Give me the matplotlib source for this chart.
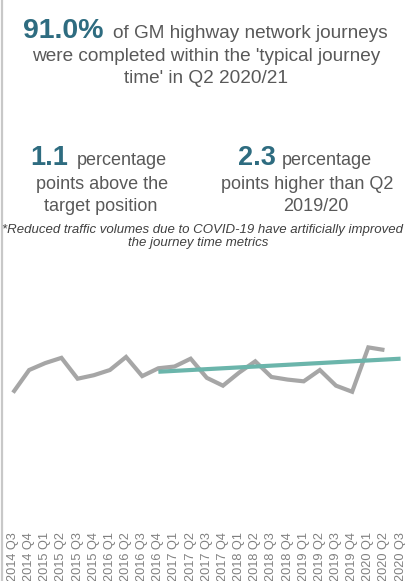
import matplotlib
matplotlib.use('Agg')
import matplotlib.pyplot as plt
from matplotlib.lines import Line2D

plt.rcParams['font.family'] = ['Liberation Sans', 'DejaVu Sans']

W, H = 406, 581
TEAL_TXT = '#2e6c80'
GREY_TXT = '#595959'
LINE_GREY = '#a6a6a6'
TREND = '#6bb5ab'

# ── Data ──────────────────────────────────────────────────────────────────────
quarters = ['2014 Q3', '2014 Q4',
            '2015 Q1', '2015 Q2', '2015 Q3', '2015 Q4',
            '2016 Q1', '2016 Q2', '2016 Q3', '2016 Q4',
            '2017 Q1', '2017 Q2', '2017 Q3', '2017 Q4',
            '2018 Q1', '2018 Q2', '2018 Q3', '2018 Q4',
            '2019 Q1', '2019 Q2', '2019 Q3', '2019 Q4',
            '2020 Q1', '2020 Q2', '2020 Q3']
pct_typical = [86.1, 88.7, 89.5, 90.1, 87.7, 88.1, 88.7, 90.2, 88.0, 88.9,
               89.1, 90.0, 87.8, 86.9, 88.4, 89.7, 87.9, 87.6, 87.4, 88.7,
               86.9, 86.2, 91.3, 91.0]
trend_idx = [9, 24]
trend_val = [88.5, 90.0]


def px(x, y):
    return x / W, 1 - y / H


fig = plt.figure(figsize=(W / 100, H / 100), dpi=100)

# left border rule
fig.add_artist(Line2D([2.5 / W, 2.5 / W], [0, 1], color='#c8c8c8', lw=1.6))

# ── Headline ─────────────────────────────────────────────────────────────────
fig.text(*px(23, 38), '91.0%', fontsize=20.5, fontweight='bold', color=TEAL_TXT,
         ha='left', va='baseline')
fig.text(*px(113, 38), 'of GM highway network journeys', fontsize=13.7,
         color=GREY_TXT, ha='left', va='baseline')
fig.text(*px(206, 61), "were completed within the 'typical journey",
         fontsize=13.7, color=GREY_TXT, ha='center', va='baseline')
fig.text(*px(206, 83), "time' in Q2 2020/21", fontsize=13.7,
         color=GREY_TXT, ha='center', va='baseline')

# ── Two call-outs ────────────────────────────────────────────────────────────
fig.text(*px(30, 165), '1.1', fontsize=19.5, fontweight='bold', color=TEAL_TXT,
         ha='left', va='baseline')
fig.text(*px(77, 165), 'percentage', fontsize=13, color=GREY_TXT,
         ha='left', va='baseline')
fig.text(*px(102, 189), 'points above the', fontsize=13, color=GREY_TXT,
         ha='center', va='baseline')
fig.text(*px(101, 211), 'target position', fontsize=13, color=GREY_TXT,
         ha='center', va='baseline')

fig.text(*px(238, 165), '2.3', fontsize=19.5, fontweight='bold', color=TEAL_TXT,
         ha='left', va='baseline')
fig.text(*px(282, 165), 'percentage', fontsize=13, color=GREY_TXT,
         ha='left', va='baseline')
fig.text(*px(307, 189), 'points higher than Q2', fontsize=13, color=GREY_TXT,
         ha='center', va='baseline')
fig.text(*px(316, 211), '2019/20', fontsize=13, color=GREY_TXT,
         ha='center', va='baseline')

fig.text(*px(2, 233), '*Reduced traffic volumes due to COVID-19 have artificially improved',
         fontsize=9.5, style='italic', color='#404040', ha='left', va='baseline')
fig.text(*px(198, 246), 'the journey time metrics', fontsize=9.5, style='italic',
         color='#404040', ha='center', va='baseline')

# ── Line chart ───────────────────────────────────────────────────────────────
top, bottom = 270, 525
ax = fig.add_axes([0, 1 - bottom / H, 1, (bottom - top) / H])
ax.set_facecolor('none')
x = list(range(len(pct_typical)))
ax.plot(x, pct_typical, color=LINE_GREY, lw=3.0, solid_joinstyle='miter',
        solid_capstyle='butt', zorder=2)
ax.plot(trend_idx, trend_val, color=TREND, lw=3.0, solid_capstyle='butt', zorder=3)

x0, dx = 13, 16.15
ax.set_xlim(-x0 / dx, (W - x0) / dx)
ax.set_ylim(91.0 - (bottom - 350) / 8.7, 91.0 + (350 - top) / 8.7)
ax.set_xticks(range(len(quarters)))
ax.set_xticklabels(quarters, rotation=90, fontsize=9.2, color='#808080')
ax.tick_params(axis='x', length=0, pad=5)
ax.set_yticks([])
for s in ax.spines.values():
    s.set_visible(False)

fig.savefig('out.png', dpi=100)
